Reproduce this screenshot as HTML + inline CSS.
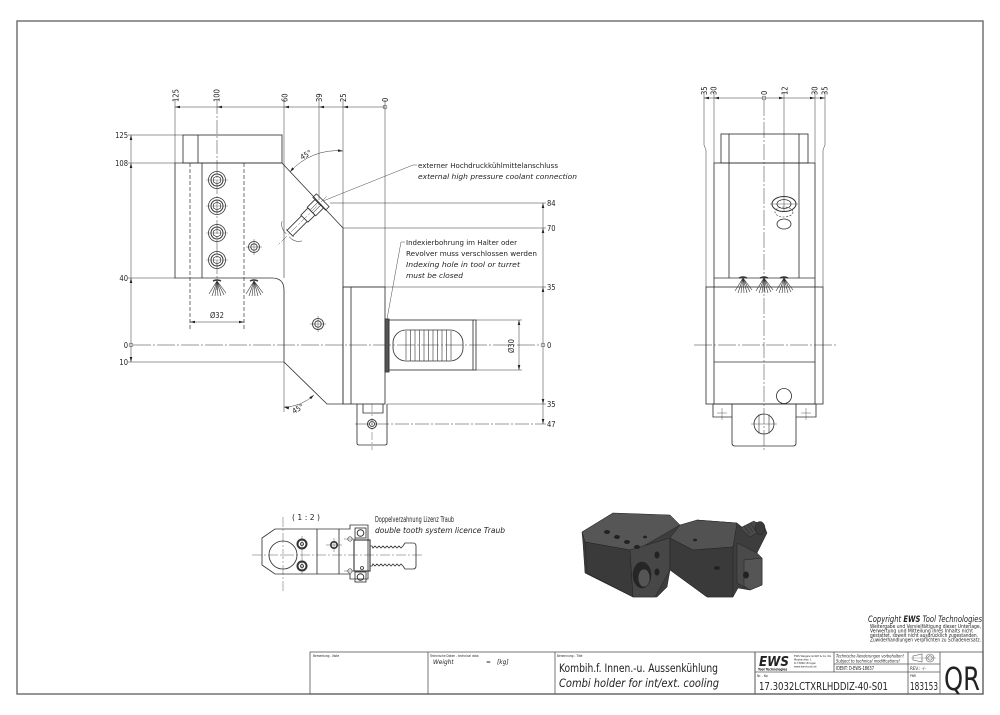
<!DOCTYPE html>
<html><head><meta charset="utf-8"><style>
html,body{margin:0;padding:0;background:#fff;}
svg{display:block}
text{font-family:"DejaVu Sans Condensed","Liberation Sans Narrow","Liberation Sans",sans-serif;fill:#222}
.i{font-style:italic}
</style></head><body>
<svg width="1000" height="715" viewBox="0 0 1000 715" xmlns="http://www.w3.org/2000/svg">
<defs>
<path id="al" d="M0,0 L5,-1.3 L5,1.3 Z" fill="#222"/>
<g id="spray" stroke="#333" stroke-width="0.6" fill="none">
<line x1="0" y1="0" x2="-8" y2="13"/><line x1="0" y1="0" x2="-5" y2="15"/><line x1="0" y1="0" x2="-2" y2="15"/><line x1="0" y1="0" x2="1" y2="15"/><line x1="0" y1="0" x2="4" y2="15"/><line x1="0" y1="0" x2="7" y2="14"/><line x1="0" y1="0" x2="9" y2="12"/>
<path d="M-4,0 Q0,-2 4,0" stroke-width="1.4"/>
</g>
<g id="scr"><circle r="8.5" fill="none" stroke="#333" stroke-width="0.8"/><circle r="6" fill="none" stroke="#333" stroke-width="1"/><path d="M-3.5,-2 L0,-4 L3.5,-2 L3.5,2 L0,4 L-3.5,2 Z" fill="none" stroke="#333" stroke-width="0.7"/><line x1="-11" y1="0" x2="11" y2="0" stroke="#555" stroke-width="0.4"/></g>
</defs>

<!-- frame -->
<rect x="17" y="21" width="966" height="673" fill="none" stroke="#6a6a6a" stroke-width="1.4"/>

<!-- ================= FRONT VIEW ================= -->
<g stroke="#333" stroke-width="0.85" fill="none">
<line x1="175" y1="107" x2="385" y2="107" stroke-width="0.5"/>
<line x1="175" y1="100" x2="175" y2="163" stroke-width="0.5"/>
<line x1="217" y1="100" x2="217" y2="290" stroke-width="0.5" stroke-dasharray="14 2 2 2"/>
<line x1="284" y1="100" x2="284" y2="163" stroke-width="0.5"/>
<line x1="319" y1="100" x2="319" y2="200" stroke-width="0.5"/>
<line x1="343" y1="100" x2="343" y2="228" stroke-width="0.5"/>
<line x1="385" y1="100" x2="385" y2="287" stroke-width="0.5"/>
<circle cx="385" cy="107" r="2" stroke-width="0.5"/>
<line x1="131" y1="135" x2="131" y2="362" stroke-width="0.5"/>
<line x1="128" y1="135" x2="183" y2="135" stroke-width="0.5"/>
<line x1="128" y1="163" x2="175" y2="163" stroke-width="0.5"/>
<line x1="128" y1="278" x2="175" y2="278" stroke-width="0.5"/>
<line x1="128" y1="362" x2="284" y2="362" stroke-width="0.5"/>
<circle cx="131" cy="345" r="2" stroke-width="0.5"/>
<line x1="133" y1="345" x2="541" y2="345" stroke-width="0.5" stroke-dasharray="18 2 2 2"/>
<line x1="543" y1="203" x2="543" y2="424" stroke-width="0.5"/>
<line x1="330" y1="203" x2="546" y2="203" stroke-width="0.5"/>
<line x1="343" y1="228" x2="546" y2="228" stroke-width="0.5"/>
<line x1="343" y1="287" x2="546" y2="287" stroke-width="0.5"/>
<line x1="387" y1="404" x2="546" y2="404" stroke-width="0.5"/>
<line x1="355" y1="424" x2="546" y2="424" stroke-width="0.5" stroke-dasharray="14 2 2 2"/>
<circle cx="543" cy="345" r="2" stroke-width="0.5"/>

<rect x="183" y="135" width="99" height="28"/>
<line x1="198" y1="135" x2="198" y2="163"/>
<path d="M175,163 L282,163 L343,228 L343,404 L327,404 L284,362 L284,290 Q284,278 272,278 L175,278 Z"/>
<line x1="284" y1="163" x2="284" y2="278" stroke-width="0.6"/>
<line x1="202" y1="163" x2="202" y2="278"/>
<line x1="190" y1="163" x2="190" y2="330" stroke-dasharray="4 2" stroke-width="0.7"/>
<line x1="244" y1="163" x2="244" y2="330" stroke-dasharray="4 2" stroke-width="0.7"/>
<rect x="343" y="287" width="42" height="117"/>
<line x1="351" y1="287" x2="351" y2="404"/>
<rect x="385" y="319" width="4" height="53" fill="#555"/>
<rect x="389" y="320" width="87" height="50"/>
<line x1="473" y1="320" x2="473" y2="370"/>
<rect x="393" y="330" width="70" height="31" rx="13"/>
<g stroke-width="0.6">
<line x1="406" y1="331" x2="406" y2="360"/><line x1="410.5" y1="330" x2="410.5" y2="361"/><line x1="415" y1="330" x2="415" y2="361"/><line x1="419.5" y1="330" x2="419.5" y2="361"/><line x1="424" y1="330" x2="424" y2="361"/><line x1="428.5" y1="330" x2="428.5" y2="361"/><line x1="433" y1="330" x2="433" y2="361"/><line x1="437.5" y1="330" x2="437.5" y2="361"/><line x1="442" y1="330" x2="442" y2="361"/><line x1="446.5" y1="330" x2="446.5" y2="361"/><line x1="451" y1="331" x2="451" y2="360"/>
</g>
<line x1="519" y1="320" x2="519" y2="370" stroke-width="0.5"/>
<line x1="476" y1="320" x2="522" y2="320" stroke-width="0.5"/>
<line x1="476" y1="370" x2="522" y2="370" stroke-width="0.5"/>
<path d="M357,404 L357,443 Q357,445 359,445 L385,445 Q387,445 387,443 L387,404"/>
<path d="M363,404 L363,413 L383,413 L383,404"/>
<circle cx="372" cy="424" r="4.5" stroke-width="1"/><circle cx="372" cy="424" r="2.5"/>
<line x1="372" y1="404" x2="372" y2="450" stroke-width="0.4" stroke-dasharray="8 2 2 2"/>
<line x1="190" y1="322" x2="244" y2="322" stroke-width="0.5"/>
<path d="M290,172 A62,62 0 0 1 343,151" stroke-width="0.5"/>
<line x1="284" y1="362" x2="284" y2="412" stroke-width="0.5"/>
<path d="M284,407 A45,45 0 0 0 314,395" stroke-width="0.5"/>
<use href="#scr" x="217" y="180"/><use href="#scr" x="217" y="206"/><use href="#scr" x="217" y="233"/><use href="#scr" x="217" y="260"/>
<circle cx="254" cy="247" r="5.5" stroke-width="0.8"/><circle cx="254" cy="247" r="3.2"/>
<line x1="246" y1="247" x2="262" y2="247" stroke-width="0.4"/><line x1="254" y1="239" x2="254" y2="255" stroke-width="0.4"/>
<circle cx="318" cy="324" r="5.5"/><circle cx="318" cy="324" r="3.2"/>
<line x1="310" y1="324" x2="326" y2="324" stroke-width="0.4"/><line x1="318" y1="316" x2="318" y2="332" stroke-width="0.4"/>
<g transform="translate(321,202) rotate(135)">
<rect x="-2.5" y="-9" width="5" height="18" stroke-width="0.8"/>
<rect x="2.5" y="-6" width="11" height="12"/>
<line x1="2.5" y1="-2" x2="13.5" y2="-2" stroke-width="0.5"/><line x1="2.5" y1="2" x2="13.5" y2="2" stroke-width="0.5"/>
<rect x="13.5" y="-5" width="10" height="10"/>
<line x1="23.5" y1="-4" x2="44" y2="-4"/><line x1="23.5" y1="4" x2="44" y2="4"/>
<line x1="44" y1="-5" x2="44" y2="5"/>
<line x1="-8" y1="0" x2="62" y2="0" stroke-width="0.4" stroke-dasharray="8 2 2 2"/>
<path d="M41,-14 A12,12 0 0 1 47,-2" stroke-width="0.5"/>
<path d="M41,14 A12,12 0 0 0 47,2" stroke-width="0.5"/>
</g>
<polyline points="323,201 413,165 417,165" stroke-width="0.45"/>
<polyline points="387,319 401,242 405,242" stroke-width="0.45"/>
</g>
<use href="#spray" x="217" y="281"/><use href="#spray" x="254" y="281"/>
<g>
<use href="#al" transform="translate(175,107)"/><use href="#al" transform="translate(217,107)"/><use href="#al" transform="translate(284,107)"/><use href="#al" transform="translate(319,107)"/><use href="#al" transform="translate(343,107)"/>
<use href="#al" transform="translate(131,135) rotate(90)"/><use href="#al" transform="translate(131,163) rotate(90)"/><use href="#al" transform="translate(131,278) rotate(90)"/><use href="#al" transform="translate(131,362) rotate(-90)"/>
<use href="#al" transform="translate(543,203) rotate(90)"/><use href="#al" transform="translate(543,228) rotate(90)"/><use href="#al" transform="translate(543,287) rotate(90)"/><use href="#al" transform="translate(543,404) rotate(-90)"/><use href="#al" transform="translate(543,424) rotate(-90)"/>
<use href="#al" transform="translate(190,322)"/><use href="#al" transform="translate(244,322) rotate(180)"/>
<use href="#al" transform="translate(519,320) rotate(90)"/><use href="#al" transform="translate(519,370) rotate(-90)"/>
<use href="#al" transform="translate(343,151) rotate(185)"/><use href="#al" transform="translate(290,172) rotate(-50)"/>
<use href="#al" transform="translate(284,407) rotate(15)"/><use href="#al" transform="translate(314,395) rotate(140)"/>
</g>
<g font-size="7.5">
<text transform="translate(178.5,102) rotate(-90)">125</text>
<text transform="translate(219.5,102) rotate(-90)">100</text>
<text transform="translate(287.5,102) rotate(-90)">60</text>
<text transform="translate(322,102) rotate(-90)">39</text>
<text transform="translate(346,102) rotate(-90)">25</text>
<text transform="translate(388,102) rotate(-90)">0</text>
<text x="128" y="138" text-anchor="end">125</text>
<text x="128" y="166" text-anchor="end">108</text>
<text x="128" y="281" text-anchor="end">40</text>
<text x="128" y="348" text-anchor="end">0</text>
<text x="128" y="365" text-anchor="end">10</text>
<text x="547" y="206">84</text>
<text x="547" y="231">70</text>
<text x="547" y="290">35</text>
<text x="547" y="348">0</text>
<text x="547" y="407">35</text>
<text x="547" y="427">47</text>
<text x="210" y="318">Ø32</text>
<text transform="translate(514,353) rotate(-90)">Ø30</text>
<text transform="translate(302,160) rotate(-30)">45°</text>
<text transform="translate(294,414) rotate(-30)">45°</text>
</g>
<g font-size="7.3">
<text x="418" y="168" textLength="140" lengthAdjust="spacingAndGlyphs">externer Hochdruckkühlmittelanschluss</text>
<text x="418" y="179" class="i" textLength="159" lengthAdjust="spacingAndGlyphs">external high pressure coolant connection</text>
<text x="406" y="245" textLength="111" lengthAdjust="spacingAndGlyphs">Indexierbohrung im Halter oder</text>
<text x="406" y="256" textLength="131" lengthAdjust="spacingAndGlyphs">Revolver muss verschlossen werden</text>
<text x="406" y="267" class="i" textLength="114" lengthAdjust="spacingAndGlyphs">Indexing hole in tool or turret</text>
<text x="406" y="278" class="i" textLength="57" lengthAdjust="spacingAndGlyphs">must be closed</text>
</g>

<!-- ================= SIDE VIEW ================= -->
<g stroke="#333" stroke-width="0.85" fill="none">
<line x1="704" y1="98" x2="825" y2="98" stroke-width="0.5"/>
<circle cx="764" cy="98" r="2" stroke-width="0.5"/>
<path d="M704,92 L704,145 L706,150 L706,287" stroke-width="0.5"/>
<path d="M825,92 L825,145 L823,150 L823,287" stroke-width="0.5"/>
<line x1="714" y1="92" x2="714" y2="163" stroke-width="0.5"/>
<line x1="815" y1="92" x2="815" y2="163" stroke-width="0.5"/>
<line x1="784" y1="92" x2="784" y2="212" stroke-width="0.5"/>
<line x1="764" y1="100" x2="764" y2="452" stroke-width="0.5" stroke-dasharray="16 2 2 2"/>
<rect x="721" y="134" width="87" height="29"/>
<rect x="714" y="163" width="101" height="241"/>
<line x1="729" y1="134" x2="729" y2="278"/>
<line x1="799" y1="134" x2="799" y2="278"/>
<line x1="714" y1="278" x2="815" y2="278"/>
<rect x="706" y="287" width="117" height="117"/>
<line x1="714" y1="362" x2="815" y2="362"/>
<line x1="694" y1="345" x2="837" y2="345" stroke-width="0.5" stroke-dasharray="18 2 2 2"/>
<circle cx="784" cy="396" r="7.5"/>
<path d="M713,404 L713,417 L732,417"/>
<path d="M816,404 L816,417 L796,417"/>
<path d="M732,404 L732,443 Q732,446 735,446 L793,446 Q796,446 796,443 L796,404"/>
<circle cx="764" cy="424" r="10"/>
<line x1="759" y1="414.5" x2="759" y2="433.5" stroke-width="0.6"/><line x1="769" y1="414.5" x2="769" y2="433.5" stroke-width="0.6"/>
<line x1="751" y1="424" x2="777" y2="424" stroke-width="0.4"/>
<line x1="717" y1="413" x2="727" y2="413" stroke-width="0.4"/><line x1="722" y1="408" x2="722" y2="420" stroke-width="0.4"/>
<line x1="801" y1="413" x2="811" y2="413" stroke-width="0.4"/><line x1="806" y1="408" x2="806" y2="420" stroke-width="0.4"/>
<ellipse cx="784" cy="204" rx="12" ry="7.5" stroke-width="1"/>
<ellipse cx="784" cy="204" rx="7" ry="4.5"/>
<ellipse cx="784" cy="212" rx="9" ry="5" stroke-dasharray="2 1.5" stroke-width="0.6"/>
<ellipse cx="784" cy="224" rx="7" ry="5"/>
<line x1="770" y1="204" x2="798" y2="204" stroke-width="0.4"/>
</g>
<use href="#spray" x="743" y="278"/><use href="#spray" x="764" y="278"/><use href="#spray" x="784" y="278"/>
<g>
<use href="#al" transform="translate(714,98)"/><use href="#al" transform="translate(704,98)"/>
<use href="#al" transform="translate(784,98) rotate(180)"/><use href="#al" transform="translate(815,98) rotate(180)"/><use href="#al" transform="translate(825,98) rotate(180)"/>
</g>
<g font-size="7.5">
<text transform="translate(707,95) rotate(-90)">35</text>
<text transform="translate(716.5,95) rotate(-90)">30</text>
<text transform="translate(767,95) rotate(-90)">0</text>
<text transform="translate(787.5,95) rotate(-90)">12</text>
<text transform="translate(817.5,95) rotate(-90)">30</text>
<text transform="translate(827.5,95) rotate(-90)">35</text>
</g>

<!-- ================= DETAIL 1:2 ================= -->
<g stroke="#333" stroke-width="0.85" fill="none">
<path d="M275,529 L350,529 L350,525 L368,525 L368,579 L350,579 L350,574 L275,574 L262,565 L262,538 Z"/>
<line x1="317" y1="529" x2="317" y2="574"/>
<line x1="339" y1="529" x2="339" y2="574"/>
<circle cx="283" cy="555" r="14"/>
<circle cx="302" cy="544" r="4.5" stroke-width="2"/><circle cx="302" cy="544" r="1.5"/>
<circle cx="302" cy="566" r="4.5" stroke-width="2"/><circle cx="302" cy="566" r="1.5"/>
<circle cx="334" cy="545" r="3.2" stroke-width="1.6"/>
<circle cx="350" cy="539" r="2.2" stroke-width="0.6"/><circle cx="350" cy="571" r="2.2" stroke-width="0.6"/>
<rect x="355" y="528" width="11" height="10"/><circle cx="360.5" cy="533" r="3.3" stroke-width="1"/>
<rect x="355" y="572" width="11" height="10"/><circle cx="360.5" cy="577" r="3.3" stroke-width="1"/>
<rect x="354" y="540" width="16" height="31" stroke-width="1.1"/>
<circle cx="362" cy="568" r="1.5"/>
<path d="M370,546 L372,546 L373,548 L375,546 L377,548 L379,546 L381,548 L383,546 L385,548 L387,546 L389,548 L391,546 L393,548 L395,546 L397,548 L399,546 L401,548 L403,546 L405,543 L413,543 Q416,543 416,546 L416,566 Q416,569 413,569 L405,569 L403,566 L401,564 L399,566 L397,564 L395,566 L393,564 L391,566 L389,564 L387,566 L385,564 L383,566 L381,564 L379,566 L377,564 L375,566 L373,564 L372,566 L370,566"/>
<line x1="252" y1="555" x2="424" y2="555" stroke-width="0.4" stroke-dasharray="10 2 2 2"/>
<line x1="283" y1="517" x2="283" y2="592" stroke-width="0.4" stroke-dasharray="10 2 2 2"/>
<line x1="302" y1="536" x2="302" y2="574" stroke-width="0.4"/>
<line x1="326" y1="545" x2="342" y2="545" stroke-width="0.4"/><line x1="334" y1="538" x2="334" y2="552" stroke-width="0.4"/>
<line x1="344" y1="539" x2="356" y2="539" stroke-width="0.4"/><line x1="344" y1="571" x2="356" y2="571" stroke-width="0.4"/>
</g>
<g font-size="7.5">
<text x="292" y="520" textLength="28" lengthAdjust="spacingAndGlyphs">( 1 : 2 )</text>
<text x="375" y="522" textLength="79" lengthAdjust="spacingAndGlyphs">Doppelverzahnung Lizenz Traub</text>
<text x="375" y="533" class="i" textLength="130" lengthAdjust="spacingAndGlyphs">double tooth system licence Traub</text>
</g>

<!-- ================= 3D RENDER ================= -->
<g stroke="#222" stroke-width="0.5">
<polygon points="582,532 613,513 620,517 670,516 680,525 693,523 697,520 737,523 743,528 752,522 763,523 767,533 762,543 757,553 762,558 762,585 750,590 738,588 733,597 707,597 670,570 667,587 657,597 633,597 585,573 583,543" fill="#3d3d3d"/>
<polygon points="582,532 613,513 670,515 680,525 642,547 630,550 585,542" fill="#565656"/>
<polygon points="585,542 630,550 633,597 587,573" fill="#3a3a3a"/>
<polygon points="630,550 670,538 670,570 655,597 633,597" fill="#474747"/>
<polygon points="680,525 697,520 737,523 733,547 693,550 670,538" fill="#525252"/>
<polygon points="670,538 693,550 733,547 733,597 707,597 670,570" fill="#3a3a3a"/>
<polygon points="737,543 757,553 762,558 762,585 750,590 737,583" fill="#4a4a4a"/>
<polygon points="744,560 762,558 762,585 750,590 744,586" fill="#555"/>
<polygon points="740,528 754,521 764,528 750,537" fill="#4a4a4a"/>
<ellipse cx="760" cy="528" rx="5" ry="6.5" fill="#3a3a3a"/>
<ellipse cx="642" cy="575" rx="9" ry="13" fill="#262626"/>
<ellipse cx="644" cy="578" rx="6" ry="9" fill="#555"/>
</g>
<g stroke="#222" stroke-width="0.5">
<line x1="744" y1="526" x2="750" y2="534"/><line x1="747" y1="524" x2="753" y2="532"/><line x1="750" y1="523" x2="756" y2="531"/>
</g>
<g fill="#222">
<ellipse cx="607" cy="532" rx="3" ry="2"/><ellipse cx="617" cy="537" rx="3" ry="2"/><ellipse cx="627" cy="542" rx="3" ry="2"/><ellipse cx="637" cy="547" rx="3" ry="2"/>
<ellipse cx="645" cy="537" rx="2" ry="1.4"/><ellipse cx="695" cy="540" rx="2" ry="1.4"/>
<ellipse cx="657" cy="555" rx="2.5" ry="3.5"/><ellipse cx="657" cy="572" rx="2.5" ry="3.5"/>
<ellipse cx="717" cy="568" rx="3" ry="2"/>
<ellipse cx="746" cy="575" rx="3" ry="3.5"/>
</g>

<!-- ================= COPYRIGHT ================= -->
<text x="868" y="622" font-size="8.5" font-family="Liberation Sans, sans-serif" textLength="114" lengthAdjust="spacingAndGlyphs"><tspan class="i">Copyright </tspan><tspan font-weight="bold" class="i">EWS</tspan><tspan class="i"> Tool Technologies</tspan></text>
<g font-size="5" font-family="Liberation Sans, sans-serif">
<text x="870" y="628" textLength="111" lengthAdjust="spacingAndGlyphs">Weitergabe und Vervielfältigung dieser Unterlage,</text>
<text x="870" y="632.5" textLength="103" lengthAdjust="spacingAndGlyphs">Verwertung und Mitteilung ihres Inhalts nicht</text>
<text x="870" y="637" textLength="108" lengthAdjust="spacingAndGlyphs">gestattet, soweit nicht ausdrücklich zugestanden.</text>
<text x="870" y="641.5" textLength="111" lengthAdjust="spacingAndGlyphs">Zuwiderhandlungen verpflichten zu Schadenersatz.</text>
</g>

<!-- ================= TITLE BLOCK ================= -->
<g stroke="#555" stroke-width="0.8" fill="none">
<rect x="310" y="652" width="673" height="42"/>
<line x1="428" y1="652" x2="428" y2="694"/>
<line x1="555" y1="652" x2="555" y2="694"/>
<line x1="755" y1="652" x2="755" y2="694" stroke-width="1"/>
<line x1="834" y1="652" x2="834" y2="672"/>
<line x1="908" y1="652" x2="908" y2="694"/>
<line x1="940" y1="652" x2="940" y2="694"/>
<line x1="755" y1="672" x2="940" y2="672"/>
<line x1="834" y1="664" x2="940" y2="664"/>
<path d="M913,656 L922,654 L922,662 L913,660 Z" stroke-width="0.6"/>
<circle cx="930" cy="658" r="4" stroke-width="0.6"/><circle cx="930" cy="658" r="2.2" stroke-width="0.6"/>
<line x1="911" y1="658" x2="936" y2="658" stroke-width="0.3"/>
</g>
<g font-size="3.2" fill="#444">
<text x="313" y="657">Bemerkung - Note</text>
<text x="430" y="657">Technische Daten - technical data</text>
<text x="557" y="657">Benennung - Title</text>
<text x="757" y="677">Nr. - No</text>
<text x="910" y="677">PNR</text>
</g>
<g font-size="6.5" class="i">
<text x="433" y="664">Weight</text><text x="486" y="664">=</text><text x="497" y="664">[kg]</text>
</g>
<text x="559" y="672" font-size="11.5" textLength="159" lengthAdjust="spacingAndGlyphs">Kombih.f. Innen.-u. Aussenkühlung</text>
<text x="559" y="687" font-size="11.5" class="i" textLength="160" lengthAdjust="spacingAndGlyphs">Combi holder for int/ext. cooling</text>
<text x="759" y="666" font-size="13" font-weight="bold" class="i" font-family="Liberation Sans, sans-serif" textLength="30" lengthAdjust="spacingAndGlyphs" fill="#111">EWS</text>
<text x="758" y="670.5" font-size="3.3" font-weight="bold" font-family="Liberation Sans, sans-serif">Tool Technologies</text>
<g font-size="2.8" font-family="Liberation Sans, sans-serif" fill="#444">
<text x="794" y="657">EWS Weigele GmbH &amp; Co. KG</text>
<text x="794" y="660.5">Maybachstr. 1</text>
<text x="794" y="664">D-73066 Uhingen</text>
<text x="794" y="667.5">www.ews-tools.de</text>
</g>
<g font-size="4.6" class="i">
<text x="836" y="657.5" textLength="68" lengthAdjust="spacingAndGlyphs">Technische Aenderungen vorbehalten!</text>
<text x="836" y="662.5" textLength="64" lengthAdjust="spacingAndGlyphs">Subject to technical modifications!</text>
</g>
<text x="836" y="670" font-size="4.8" textLength="38" lengthAdjust="spacingAndGlyphs">IDENT: D-EWS-18637</text>
<text x="910" y="670" font-size="4.5">REV.: -/-</text>
<text x="759" y="690" font-size="11" textLength="129" lengthAdjust="spacingAndGlyphs">17.3032LCTXRLHDDIZ-40-S01</text>
<text x="910" y="690" font-size="11" textLength="28" lengthAdjust="spacingAndGlyphs">183153</text>
<text x="944" y="690" font-size="32" font-family="Liberation Sans, sans-serif" textLength="36" lengthAdjust="spacingAndGlyphs" fill="#222">QR</text>
</svg>
</body></html>
